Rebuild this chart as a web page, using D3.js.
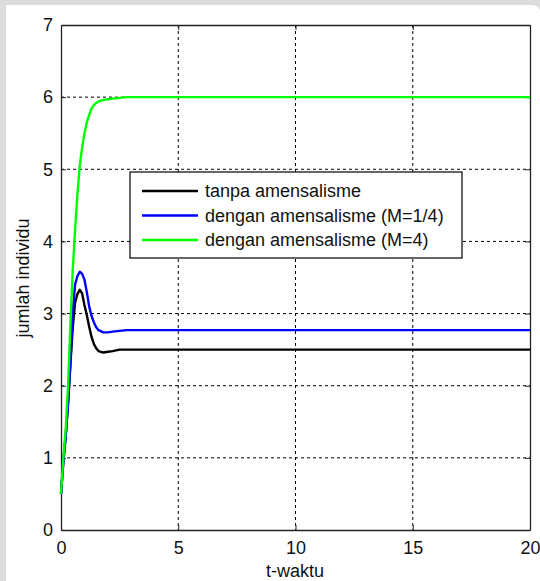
<!DOCTYPE html>
<html><head><meta charset="utf-8">
<script src="https://cdn.jsdelivr.net/npm/d3@7"></script>
<style>body{margin:0;background:#fff}svg{display:block}</style>
</head><body>
<script>
const tValues = [0,0.1,0.2,0.3,0.4,0.5,0.6,0.7,0.8,0.9,1.0,1.1,1.2,1.3,1.4,1.5,1.6,1.8,2.0,2.2,2.5,2.8,3,4,5,6,8,10,12,14,16,18,20];
const tanpa   = [0.5,0.95,1.3,1.75,2.3,2.8,3.15,3.27,3.33,3.28,3.12,2.98,2.82,2.68,2.58,2.52,2.48,2.46,2.47,2.48,2.5,2.5,2.5,2.5,2.5,2.5,2.5,2.5,2.5,2.5,2.5,2.5,2.5];
const mQuarter= [0.5,0.95,1.3,1.75,2.3,3.0,3.4,3.52,3.58,3.55,3.47,3.3,3.1,2.97,2.88,2.81,2.77,2.74,2.74,2.75,2.76,2.77,2.77,2.77,2.77,2.77,2.77,2.77,2.77,2.77,2.77,2.77,2.77];
const mFour   = [0.5,1.0,1.4,2.0,2.85,3.6,4.16,4.65,5.05,5.3,5.5,5.65,5.75,5.84,5.89,5.92,5.94,5.96,5.97,5.98,5.99,6.0,6,6,6,6,6,6,6,6,6,6,6];
const xTicks = [0,5,10,15,20];
const yTicks = [0,1,2,3,4,5,6,7];
const seriesNames = ["tanpa amensalisme","dengan amensalisme (M=1/4)","dengan amensalisme (M=4)"];
const seriesColors = ["#000000","#0000ff","#00ff00"];
const seriesData = [tanpa, mQuarter, mFour];

const W=540,H=581;
const svg=d3.select("body").append("svg").attr("width",W).attr("height",H);
svg.append("rect").attr("width",W).attr("height",H).attr("fill","#dcdcdc");
svg.append("path").attr("d",`M6,5 H532 Q540,5 540,13 V${H} H6 Z`).attr("fill","#fff");

const L=61,R=530,T=25,B=530;
const x=d3.scaleLinear().domain([0,20]).range([L,R]);
const y=d3.scaleLinear().domain([0,7]).range([B,T]);
const font="Liberation Sans, Arial, sans-serif";

// grid
const g=svg.append("g");
g.selectAll(".gx").data(xTicks.slice(1,-1)).enter().append("line")
 .attr("x1",d=>x(d)).attr("x2",d=>x(d)).attr("y1",T).attr("y2",B)
 .attr("stroke","#000").attr("stroke-dasharray","3,3").attr("stroke-width",1);
g.selectAll(".gy").data(yTicks.slice(1,-1)).enter().append("line")
 .attr("y1",d=>y(d)).attr("y2",d=>y(d)).attr("x1",L).attr("x2",R)
 .attr("stroke","#000").attr("stroke-dasharray","3,3").attr("stroke-width",1);

// axes with inward ticks
svg.append("g").attr("transform",`translate(0,${B})`).call(d3.axisBottom(x).tickValues(xTicks).tickFormat(d3.format("d")).tickSizeInner(-5).tickSizeOuter(0).tickPadding(11));
svg.append("g").attr("transform",`translate(${L},0)`).call(d3.axisLeft(y).tickValues(yTicks).tickFormat(d3.format("d")).tickSizeInner(-5).tickSizeOuter(0).tickPadding(8));
svg.append("g").attr("transform",`translate(0,${T})`).call(d3.axisTop(x).tickValues(xTicks).tickSizeInner(-5).tickSizeOuter(0).tickFormat(""));
svg.append("g").attr("transform",`translate(${R},0)`).call(d3.axisRight(y).tickValues(yTicks).tickSizeInner(-5).tickSizeOuter(0).tickFormat(""));
svg.selectAll(".domain").attr("stroke","#222").attr("stroke-width",1.3);
svg.selectAll(".tick line").attr("stroke","#222");
svg.selectAll(".tick text").attr("font-family",font).attr("font-size",18).attr("fill","#111");

// lines
const line=d3.line().x((d,i)=>x(tValues[i])).y(d=>y(d));
seriesData.forEach((s,k)=>{
  svg.append("path").datum(s).attr("d",line).attr("fill","none")
   .attr("stroke",seriesColors[k]).attr("stroke-width",2.4).attr("stroke-linejoin","round");
});

// labels
svg.append("text").attr("x",295).attr("y",577).attr("text-anchor","middle")
 .attr("font-family",font).attr("font-size",18).attr("fill","#111").text("t-waktu");
svg.append("text").attr("transform","translate(29,278) rotate(-90)").attr("text-anchor","middle")
 .attr("font-family",font).attr("font-size",18).attr("fill","#111").text("jumlah individu");

// legend
const lg=svg.append("g");
lg.append("rect").attr("x",130).attr("y",172).attr("width",332).attr("height",86)
 .attr("fill","#fff").attr("stroke","#000").attr("stroke-width",1.2);
seriesNames.forEach((n,k)=>{
  const yy=191+k*24.5;
  lg.append("line").attr("x1",142).attr("x2",198).attr("y1",yy).attr("y2",yy)
   .attr("stroke",seriesColors[k]).attr("stroke-width",2.6);
  lg.append("text").attr("x",205).attr("y",yy+6).attr("font-family",font).attr("font-size",18)
   .attr("fill","#111").text(n);
});
</script>
</body></html>
